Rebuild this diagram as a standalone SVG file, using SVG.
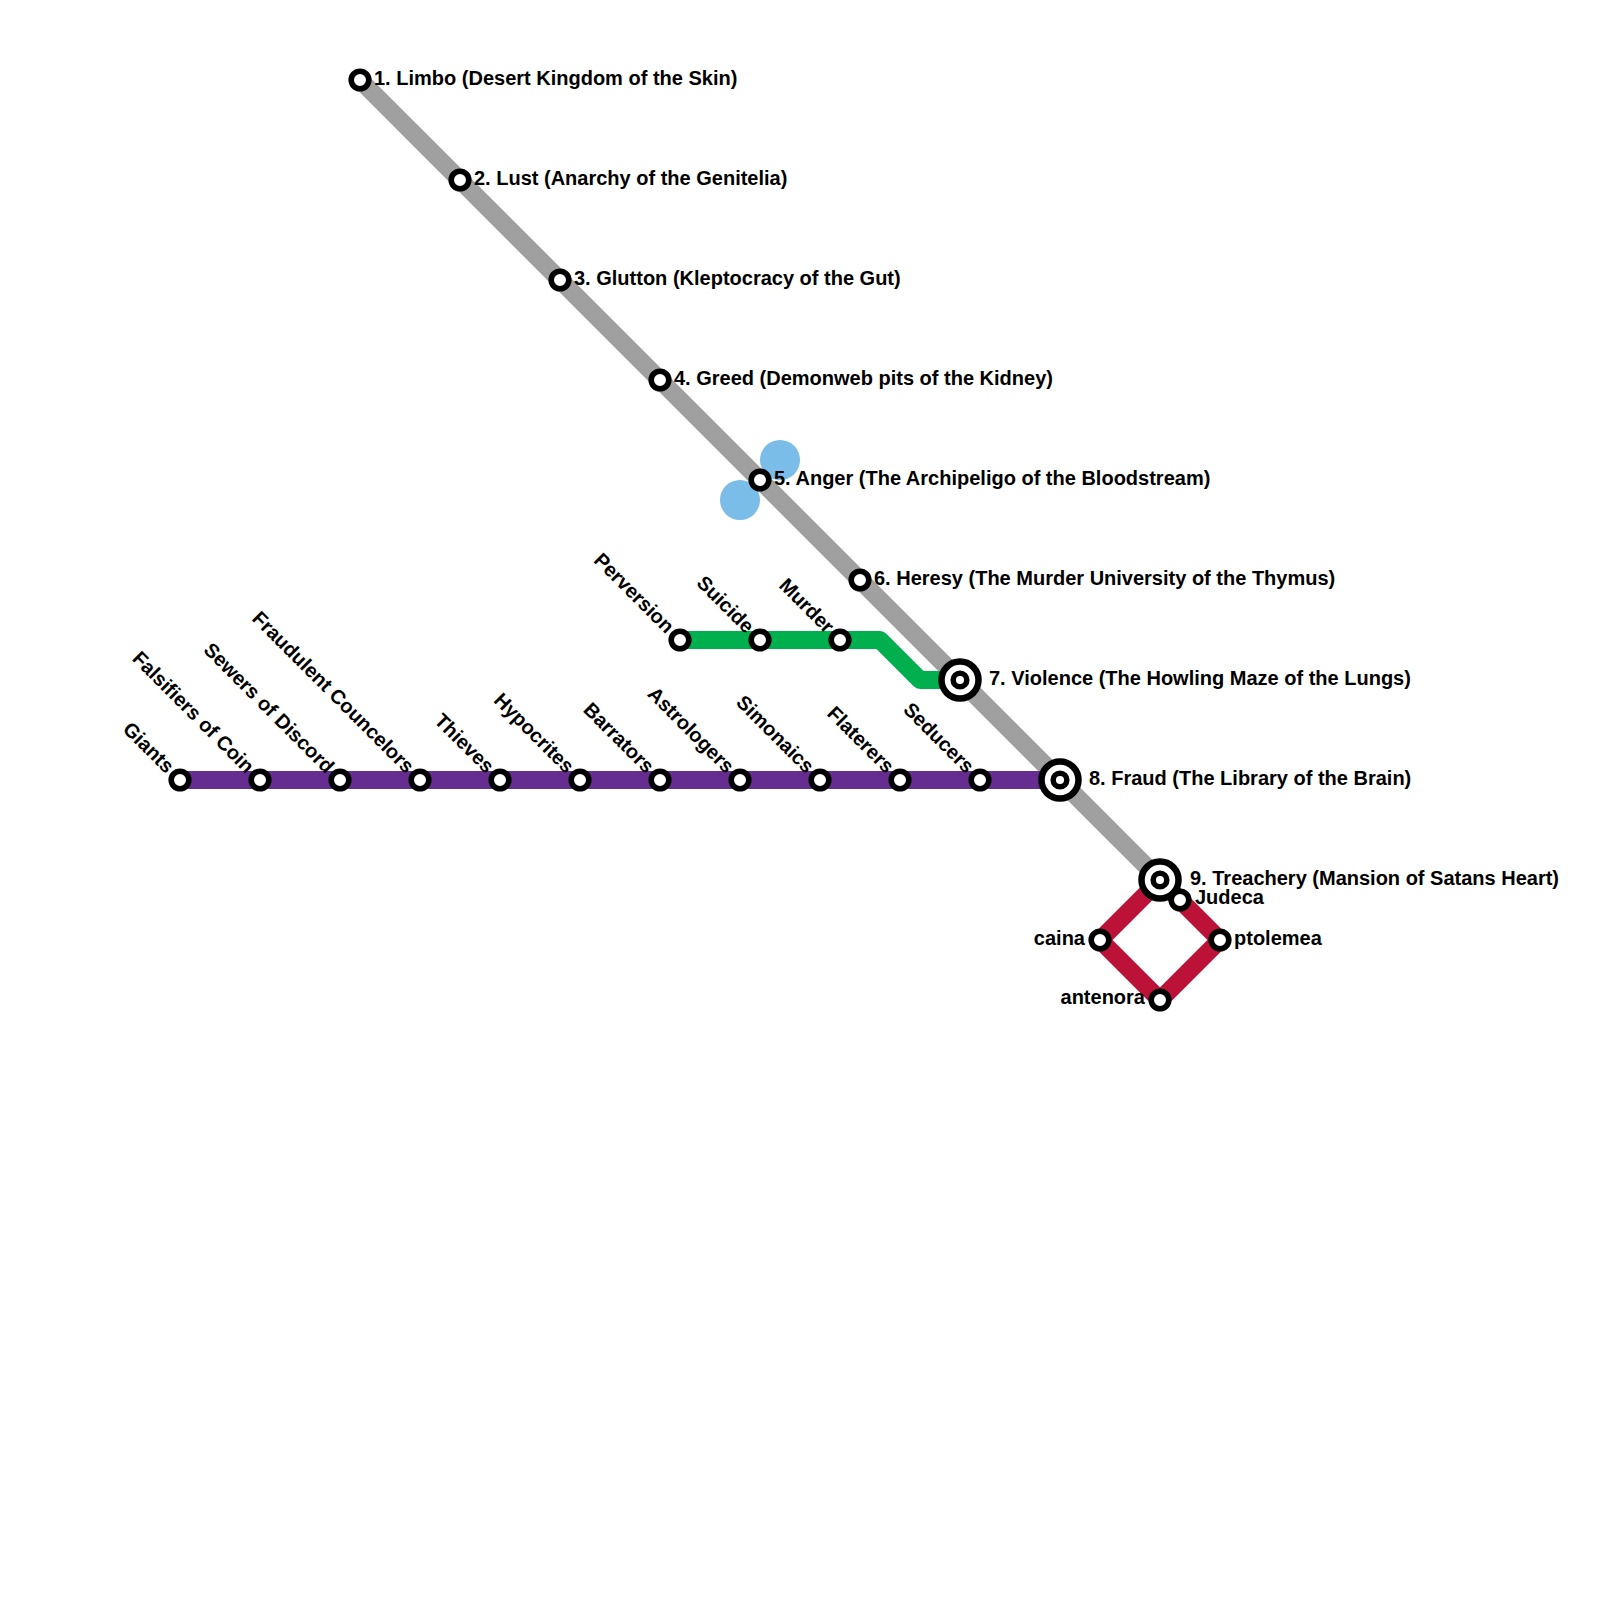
<svg xmlns="http://www.w3.org/2000/svg" width="1600" height="1600" viewBox="0 0 1600 1600">
<style>
text{font-family:"Liberation Sans",Arial,Helvetica,sans-serif;font-weight:bold;font-size:20px;fill:#000}
.ln{fill:none;stroke-width:18;stroke-linejoin:round}
.st{fill:#fff;stroke:#000;stroke-width:5.6}
.io{fill:#fff;stroke:#000;stroke-width:6.5}
.ii{fill:#fff;stroke:#000;stroke-width:5.5}
.r{text-anchor:end}
.blue{fill:#79bde8}
</style>
<defs>
<g id="ic"><circle class="io" r="18.5"/><circle class="ii" r="6.8"/></g>
</defs>
<rect width="1600" height="1600" fill="#fff"/>
<g id="decor">
<circle class="blue" cx="780" cy="460" r="20"/>
<circle class="blue" cx="740" cy="500" r="20"/>
</g>
<g id="connectors">
<path class="ln" stroke="#a0a0a0" d="M360,80 L1160,880"/>
<path class="ln" stroke="#662d91" d="M180,780 H1060"/>
<path class="ln" stroke="#00b04f" d="M680,640 H880 L920,680 H960"/>
<path class="ln" stroke="#bc1238" d="M1160,880 L1100,940 L1160,1000 L1220,940 Z"/>
</g>
<g id="s1"><circle class="st" cx="360" cy="80" r="8.8"/><text x="374" y="85">1. Limbo (Desert Kingdom of the Skin)</text></g>
<g id="s2"><circle class="st" cx="460" cy="180" r="8.8"/><text x="474" y="185">2. Lust (Anarchy of the Genitelia)</text></g>
<g id="s3"><circle class="st" cx="560" cy="280" r="8.8"/><text x="574" y="285">3. Glutton (Kleptocracy of the Gut)</text></g>
<g id="s4"><circle class="st" cx="660" cy="380" r="8.8"/><text x="674" y="385">4. Greed (Demonweb pits of the Kidney)</text></g>
<g id="s5"><circle class="st" cx="760" cy="480" r="8.8"/><text x="774" y="485">5. Anger (The Archipeligo of the Bloodstream)</text></g>
<g id="s6"><circle class="st" cx="860" cy="580" r="8.8"/><text x="874" y="585">6. Heresy (The Murder University of the Thymus)</text></g>
<g id="s7"><use href="#ic" x="960" y="680"/><text x="989" y="685">7. Violence (The Howling Maze of the Lungs)</text></g>
<g id="s8"><use href="#ic" x="1060" y="780"/><text x="1089" y="785">8. Fraud (The Library of the Brain)</text></g>
<g id="s9"><use href="#ic" x="1160" y="880"/><text x="1190" y="885">9. Treachery (Mansion of Satans Heart)</text></g>
<g id="giants"><circle class="st" cx="180" cy="780" r="8.8"/><text class="r" transform="translate(180,780) rotate(45)" x="-14" y="6">Giants</text></g>
<g id="falsifiers"><circle class="st" cx="260" cy="780" r="8.8"/><text class="r" transform="translate(260,780) rotate(45)" x="-14" y="6">Falsifiers of Coin</text></g>
<g id="sewers"><circle class="st" cx="340" cy="780" r="8.8"/><text class="r" transform="translate(340,780) rotate(45)" x="-14" y="6">Sewers of Discord</text></g>
<g id="councelors"><circle class="st" cx="420" cy="780" r="8.8"/><text class="r" transform="translate(420,780) rotate(45)" x="-14" y="6">Fraudulent Councelors</text></g>
<g id="thieves"><circle class="st" cx="500" cy="780" r="8.8"/><text class="r" transform="translate(500,780) rotate(45)" x="-14" y="6">Thieves</text></g>
<g id="hypocrites"><circle class="st" cx="580" cy="780" r="8.8"/><text class="r" transform="translate(580,780) rotate(45)" x="-14" y="6">Hypocrites</text></g>
<g id="barrators"><circle class="st" cx="660" cy="780" r="8.8"/><text class="r" transform="translate(660,780) rotate(45)" x="-14" y="6">Barrators</text></g>
<g id="astrologers"><circle class="st" cx="740" cy="780" r="8.8"/><text class="r" transform="translate(740,780) rotate(45)" x="-14" y="6">Astrologers</text></g>
<g id="simonaics"><circle class="st" cx="820" cy="780" r="8.8"/><text class="r" transform="translate(820,780) rotate(45)" x="-14" y="6">Simonaics</text></g>
<g id="flaterers"><circle class="st" cx="900" cy="780" r="8.8"/><text class="r" transform="translate(900,780) rotate(45)" x="-14" y="6">Flaterers</text></g>
<g id="seducers"><circle class="st" cx="980" cy="780" r="8.8"/><text class="r" transform="translate(980,780) rotate(45)" x="-14" y="6">Seducers</text></g>
<g id="perversion"><circle class="st" cx="680" cy="640" r="8.8"/><text class="r" transform="translate(680,640) rotate(45)" x="-14" y="6">Perversion</text></g>
<g id="suicide"><circle class="st" cx="760" cy="640" r="8.8"/><text class="r" transform="translate(760,640) rotate(45)" x="-14" y="6">Suicide</text></g>
<g id="murder"><circle class="st" cx="840" cy="640" r="8.8"/><text class="r" transform="translate(840,640) rotate(45)" x="-14" y="6">Murder</text></g>
<g id="caina"><circle class="st" cx="1100" cy="940" r="8.8"/><text class="r" x="1085" y="945">caina</text></g>
<g id="antenora"><circle class="st" cx="1160" cy="1000" r="8.8"/><text class="r" x="1145" y="1004">antenora</text></g>
<g id="ptolemea"><circle class="st" cx="1220" cy="940" r="8.8"/><text x="1234" y="945">ptolemea</text></g>
<g id="judeca"><circle class="st" cx="1180" cy="900" r="8.8"/><text x="1195" y="904">Judeca</text></g>
</svg>
